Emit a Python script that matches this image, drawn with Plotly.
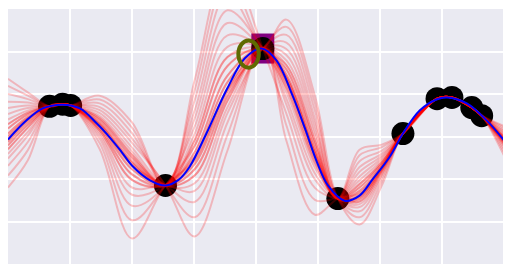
import plotly.graph_objects as go

# observations (black dots)
obs_x = [0.67, 0.88, 1.01, 2.54, 4.11, 5.32, 6.37, 6.92, 7.16, 7.48, 7.64]
obs_y = [0.71, 0.76, 0.73, -1.15, 2.07, -1.46, 0.07, 0.89, 0.92, 0.68, 0.49]

# posterior mean (blue)
mean_x = [0.00, 0.30, 0.56, 0.88, 1.16, 1.43, 1.64, 1.83, 2.01, 2.29, 2.54, 2.75, 2.93, 3.20,
          3.53, 3.82, 4.09, 4.33, 4.59, 4.79, 4.98, 5.16, 5.43, 5.67, 5.88, 6.16, 6.37, 6.64,
          6.91, 7.08, 7.40, 7.72, 8.00]
mean_y = [-0.07, 0.38, 0.66, 0.75, 0.66, 0.31, -0.02, -0.36, -0.70, -1.03, -1.15, -1.02, -0.71,
          0.07, 1.11, 1.84, 2.07, 1.79, 0.96, 0.19, -0.59, -1.15, -1.51, -1.39, -1.01, -0.47,
          0.07, 0.61, 0.87, 0.92, 0.78, 0.38, -0.09]

# posterior samples (red): values between observations
free_x = [0.00, 0.32, 1.48, 2.00, 3.01, 3.54, 4.49, 4.95, 5.67, 6.03, 8.00]
sample_0 = [-1.20, -0.56, 0.38, -0.50, -0.77, 0.95, 2.06, 0.28, -1.66, -0.90, -0.07]
sample_1 = [1.36, 1.04, -0.05, -1.63, 0.23, 2.38, 1.32, -0.45, -1.12, -0.60, -0.20]
sample_2 = [-0.30, 0.21, 0.69, -0.05, -1.90, 0.04, 0.75, -1.01, -0.44, -0.25, 0.05]
sample_3 = [0.29, 0.56, 0.22, -0.77, 1.09, 3.74, 1.58, -0.20, -1.47, -0.78, 0.16]
sample_4 = [-0.07, 0.40, 0.96, 0.33, -0.37, 1.43, -0.10, -1.84, -1.34, -0.70, -0.36]
sample_5 = [0.67, 0.73, 0.09, -1.20, -1.28, 0.55, 2.39, 0.61, -1.90, -1.05, -0.03]
sample_6 = [-0.52, 0.02, 0.48, -0.35, 0.61, 2.97, 1.15, -0.62, -0.83, -0.45, -0.11]
sample_7 = [0.07, 0.46, -0.30, -2.40, -0.56, 1.13, 1.79, 0.02, -1.20, -0.63, 0.25]
sample_8 = [1.00, 0.88, 0.29, -0.63, -0.09, 1.87, 2.75, 0.96, -2.07, -1.15, -0.16]
sample_9 = [-0.92, -0.32, 0.62, -0.15, -2.35, -0.33, 1.46, -0.31, -0.58, -0.33, -0.01]
sample_10 = [0.40, 0.61, 0.18, -0.89, 1.32, 4.10, 0.54, -1.21, -1.42, -0.75, 0.12]
sample_11 = [-0.21, 0.28, 0.87, 0.21, -0.92, 0.84, 1.92, 0.14, -1.03, -0.55, -0.45]
sample_12 = [1.19, 0.96, -0.16, -1.97, -0.22, 1.66, 1.04, -0.73, -1.59, -0.86, 0.02]
sample_13 = [0.00, 0.43, 0.43, -0.43, 0.42, 2.67, 1.39, -0.38, -0.31, -0.19, -0.23]
sample_14 = [-0.69, -0.13, 0.25, -0.68, -1.54, 0.33, 2.21, 0.42, -1.28, -0.68, -0.06]
sample_15 = [0.53, 0.67, 0.03, -1.37, -0.47, 1.28, 0.26, -1.49, -1.53, -0.81, 0.21]
sample_16 = [-0.13, 0.35, 0.78, 0.08, 0.85, 3.36, 1.68, -0.10, -0.94, -0.50, -0.13]
sample_17 = [0.82, 0.80, 0.32, -0.58, -0.65, 1.06, 2.58, 0.79, -1.76, -0.96, 0.09]
sample_18 = [-0.41, 0.11, 0.14, -1.02, 0.06, 2.11, 1.25, -0.52, -0.72, -0.40, -0.09]
sample_19 = [0.19, 0.52, 0.55, -0.26, -1.10, 0.69, 0.89, -0.87, -1.39, -0.73, -0.29]
sample_20 = [-0.13, 0.35, 0.32, -0.58, -0.77, 0.95, 1.39, -0.38, -1.20, -0.63, -0.09]
sample_21 = [0.07, 0.46, 0.18, -0.89, -0.47, 1.28, 1.25, -0.52, -1.53, -0.81, -0.03]
sample_22 = [-0.07, 0.40, 0.38, -0.50, -0.09, 1.87, 1.15, -0.62, -1.34, -0.70, -0.11]
sample_23 = [-0.21, 0.28, 0.25, -0.68, -0.65, 1.06, 1.46, -0.31, -1.12, -0.60, -0.07]
sample_24 = [0.19, 0.52, 0.14, -1.02, -0.37, 1.43, 1.68, -0.10, -1.42, -0.75, -0.13]
sample_25 = [0.00, 0.43, 0.43, -0.43, -0.92, 0.84, 1.32, -0.45, -1.28, -0.68, -0.06]
sample_26 = [-0.30, 0.21, 0.22, -0.77, -0.22, 1.66, 1.39, -0.38, -1.47, -0.78, -0.01]
sample_27 = [0.29, 0.56, 0.29, -0.63, -0.56, 1.13, 1.58, -0.20, -1.39, -0.73, -0.16]
samples = [sample_0, sample_1, sample_2, sample_3, sample_4, sample_5, sample_6, sample_7,
           sample_8, sample_9, sample_10, sample_11, sample_12, sample_13, sample_14,
           sample_15, sample_16, sample_17, sample_18, sample_19, sample_20, sample_21,
           sample_22, sample_23, sample_24, sample_25, sample_26, sample_27]

# best observed point (purple square) and proposed next point (olive ring)
best_x = [4.11]
best_y = [2.07]
next_x = [3.88]
next_y = [1.94]

fig = go.Figure()

fig.add_trace(go.Scatter(x=obs_x, y=obs_y, mode="markers",
                         marker=dict(color="black", size=23, line=dict(width=0)),
                         showlegend=False, hoverinfo="skip"))

for s in samples:
    pts = sorted(list(zip(free_x, s)) + list(zip(obs_x, obs_y)))
    fig.add_trace(go.Scatter(x=[p[0] for p in pts], y=[p[1] for p in pts], mode="lines",
                             line=dict(color="red", width=2, shape="spline", smoothing=1),
                             opacity=0.22, showlegend=False, hoverinfo="skip"))

fig.add_trace(go.Scatter(x=mean_x, y=mean_y, mode="lines",
                         line=dict(color="blue", width=2, shape="spline", smoothing=1),
                         showlegend=False, hoverinfo="skip"))

SQ_HW, SQ_HH = 0.185, 0.353
RING_HW, RING_HH = 0.165, 0.32
for bx, by in zip(best_x, best_y):
    fig.add_shape(type="rect", xref="x", yref="y", x0=bx - SQ_HW, x1=bx + SQ_HW,
                  y0=by - SQ_HH, y1=by + SQ_HH, fillcolor="purple",
                  line=dict(width=0), layer="between")
for nx, ny in zip(next_x, next_y):
    fig.add_shape(type="circle", xref="x", yref="y", x0=nx - RING_HW, x1=nx + RING_HW,
                  y0=ny - RING_HH, y1=ny + RING_HH, fillcolor="rgba(0,0,0,0)",
                  line=dict(color="#5f6a00", width=4), layer="above")

axis_common = dict(showticklabels=False, ticks="", showgrid=True, gridcolor="white",
                   gridwidth=1.5, zeroline=False, showline=False, dtick=1)
fig.update_xaxes(range=[0, 8], tick0=0, **axis_common)
fig.update_yaxes(range=[-3, 3], tick0=-3, **axis_common)

# the page body adds an 8px offset, so the figure itself spans 503x264
fig.update_layout(width=503, height=264, margin=dict(l=0, r=7, t=1, b=8),
                  plot_bgcolor="#EAEAF2", paper_bgcolor="white")

fig.write_html("out.html")
